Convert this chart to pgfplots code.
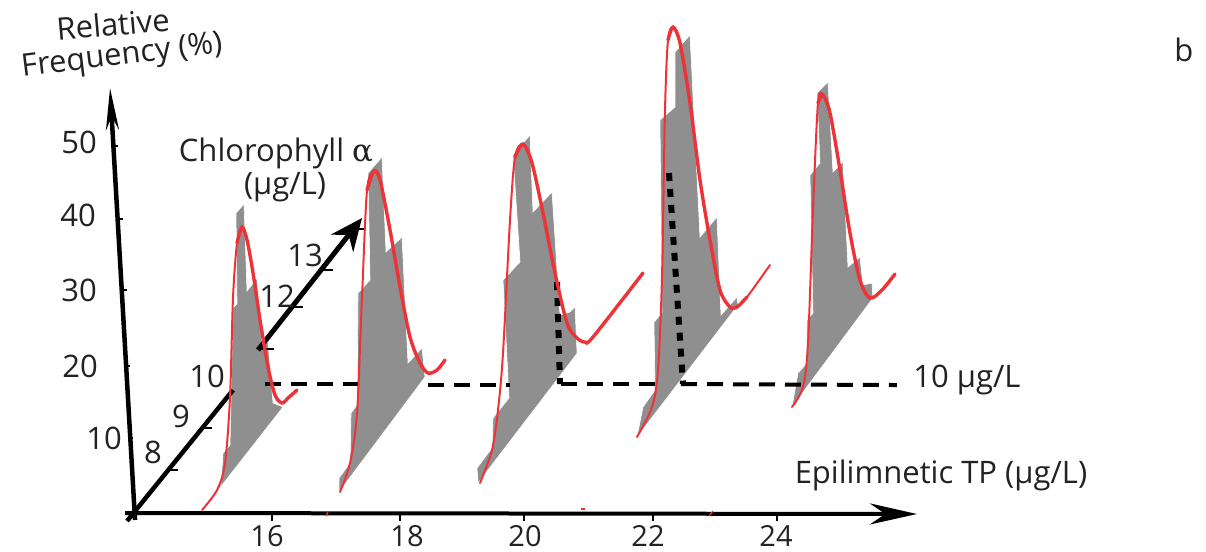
\documentclass[border=0pt]{standalone}
\usepackage{pgfplots}
\pgfplotsset{compat=1.18}
\usepackage{fontspec}
\setmainfont{Open Sans}
\newfontfamily\sym{DejaVu Serif}
\usetikzlibrary{arrows.meta}
\definecolor{barg}{HTML}{8F8F8F}
\definecolor{redc}{HTML}{EE3338}
\definecolor{txt}{HTML}{222222}
\pgfplotsset{
 gp/.style={draw=white,line width=0.6pt,fill=barg},
 thin red/.style={redc,line width=2pt,smooth,line cap=round},
 thick red/.style={redc,line width=3.4pt,smooth,line cap=round},
 hd/.style={black,line width=4pt,dash pattern=on 16pt off 10pt},
 vd/.style={black,line width=6pt,dash pattern=on 8pt off 8pt},
 tk/.style={black,line width=1.6pt},
}
\tikzset{lab/.style={font=\fontsize{31}{34}\selectfont,text=txt,inner sep=0pt},
 tl/.style={font=\fontsize{29}{32}\selectfont,text=txt,inner sep=0pt}}
\begin{document}
\begin{tikzpicture}
\begin{axis}[hide axis,scale only axis,width=1206pt,height=551pt,
 xmin=0,xmax=1206,ymin=0,ymax=551,y dir=reverse,clip=false]
% frame that fixes the page size
\addplot[white,line width=0.1pt] coordinates {(0,0)(1206,0)(1206,551)(0,551)(0,0)};
% histograms
\addplot[gp] coordinates {(204,508)(221,484)(223,453)(230,445)(233,308)(237,304)(236,213)(244,204)(247,291)(257,278)(262,345)(268,342)(273,403)(283,407)(204,508)} --cycle;
\addplot[gp] coordinates {(339,492)(339,478)(350,463)(351,413)(357,405)(358,293)(370,280)(368,173)(382,157)(386,252)(402,237)(408,363)(422,348)(425,377)(339,492)} --cycle;
\addplot[gp] coordinates {(478,483)(477,468)(492,448)(493,418)(509,398)(503,280)(520,262)(513,155)(530,135)(533,212)(552,192)(560,315)(570,312)(575,307)(577,352)(585,343)(478,483)} --cycle;
\addplot[gp] coordinates {(637,437)(643,407)(655,390)(654,322)(662,313)(660,120)(675,107)(675,52)(690,35)(700,237)(717,217)(721,315)(737,297)(738,305)(637,437)} --cycle;
\addplot[gp] coordinates {(792,407)(798,373)(807,363)(807,320)(813,313)(810,175)(820,163)(817,93)(828,82)(833,172)(843,162)(848,267)(860,257)(863,285)(872,283)(873,298)(792,407)} --cycle;
% axes
\addplot[black,line width=4.5pt,-{Stealth[length=42pt,width=13pt]}] coordinates {(135,520)(110,88)};
\addplot[black,line width=4pt,-{Stealth[length=47pt,width=21pt]}] coordinates {(125,513)(917,514)};
\addplot[black,line width=4.5pt] coordinates {(127,521)(233,390)};
\addplot[black,line width=5pt,-{Stealth[length=32pt,width=28pt]}] coordinates {(258,350)(362,218)};
% y ticks
\addplot[tk] coordinates {(114,146)(118,146)};
\addplot[tk] coordinates {(118,219)(123,219)};
\addplot[tk] coordinates {(122,290)(127,290)};
\addplot[tk] coordinates {(125,366)(130,366)};
\addplot[tk] coordinates {(128,438)(133,438)};
% x ticks
\addplot[tk] coordinates {(272,515)(272,521)};
\addplot[tk] coordinates {(400,515)(400,521)};
\addplot[tk] coordinates {(524,515)(524,521)};
\addplot[tk] coordinates {(653,515)(653,521)};
\addplot[tk] coordinates {(777,515)(777,521)};
% chlorophyll ticks
\addplot[tk] coordinates {(168,470)(178,470)};
\addplot[tk] coordinates {(202,428)(212,428)};
\addplot[tk] coordinates {(262,349)(274,349)};
\addplot[tk] coordinates {(292,307)(303,307)};
\addplot[tk] coordinates {(322,270)(333,270)};
\addplot[tk] coordinates {(358,229)(366,229)};
% dashed guides
\addplot[hd] coordinates {(265,384)(365,384)};
\addplot[hd] coordinates {(428,385)(510,385)};
\addplot[hd] coordinates {(561,384)(660,384)};
\addplot[hd] coordinates {(681,384)(897,385)};
\addplot[vd] coordinates {(557,282)(560,384)};
\addplot[vd] coordinates {(669,173)(683,384)};
% red curves
\addplot[thin red] coordinates {(202,510)(217,490)(225,463)(230,397)(233,297)(237,243)(242,227)(247,240)};
\addplot[thick red] coordinates {(237,243)(242,227)(247,240)(253,273)(260,320)(268,367)(275,395)(282,403)(288,398)(297,390)};
\addplot[thin red] coordinates {(340,492)(350,463)(357,413)(362,297)(367,190)(374,171)(380,180)};
\addplot[thick red] coordinates {(367,190)(374,171)(380,180)(390,230)(400,287)(410,337)(420,363)(428,373)(437,370)(445,360)};
\addplot[thin red] coordinates {(480,483)(492,450)(498,410)(503,353)(510,220)(515,157)(523,144)(532,163)};
\addplot[thick red] coordinates {(515,157)(523,144)(532,163)(543,213)(555,273)(567,323)(577,338)(585,342)(593,337)(643,273)};
\addplot[thin red] coordinates {(637,437)(652,407)(658,370)(662,277)(665,110)(668,40)(673,27)(680,43)};
\addplot[thick red] coordinates {(668,40)(673,27)(680,43)(690,103)(700,180)(710,240)(720,290)(730,307)(737,307)(747,297)};
\addplot[thin red] coordinates {(737,307)(747,297)(770,265)};
\addplot[thin red] coordinates {(792,407)(803,387)(808,343)(813,210)(818,103)(823,95)(830,113)};
\addplot[thick red] coordinates {(818,103)(823,95)(830,113)(840,170)(850,233)(860,280)(870,298)(882,290)(895,274)};
% red specks
\addplot[redc,line width=1.2pt] coordinates {(326,516)(328,512)};
\addplot[redc,line width=1.2pt] coordinates {(581,509)(585,509)};
\addplot[redc,line width=1.2pt] coordinates {(709,516)(713,511)};
% text
\node[lab,rotate=5] at (axis cs:113,24) {Relative};
\node[lab,rotate=7] at (axis cs:122,57) {Frequency (\%)};
\node[lab] at (axis cs:79,142) {50};
\node[lab] at (axis cs:78,215) {40};
\node[lab] at (axis cs:79,290) {30};
\node[lab] at (axis cs:80,366) {20};
\node[lab] at (axis cs:104,438) {10};
\node[lab] at (axis cs:153,452) {8};
\node[lab] at (axis cs:181,416) {9};
\node[lab] at (axis cs:207,376) {10};
\node[lab] at (axis cs:277,296) {12};
\node[lab] at (axis cs:305,255) {13};
\node[lab] at (axis cs:276,153) {Chlorophyll {\sym α}};
\node[lab] at (axis cs:285,187) {(μg/L)};
\node[lab] at (axis cs:967,380) {10 μg/L};
\node[lab] at (axis cs:941,475) {Epilimnetic TP (μg/L)};
\node[lab] at (axis cs:1184,50) {b};
\node[tl] at (axis cs:267,536) {16};
\node[tl] at (axis cs:407,536) {18};
\node[tl] at (axis cs:525,536) {20};
\node[tl] at (axis cs:648,536) {22};
\node[tl] at (axis cs:776,536) {24};
\end{axis}
\end{tikzpicture}
\end{document}
